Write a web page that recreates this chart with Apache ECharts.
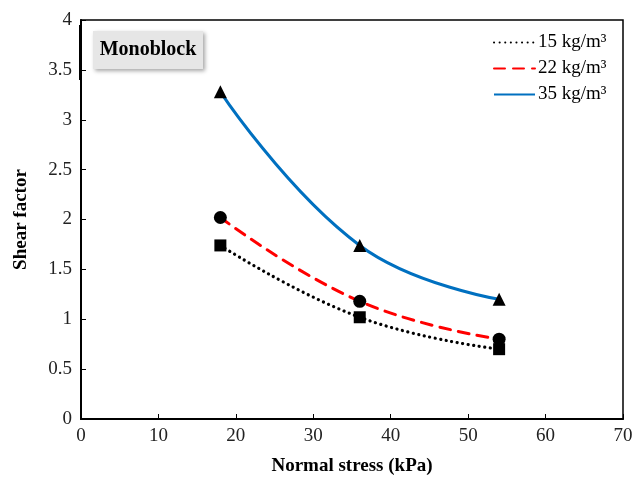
<!DOCTYPE html>
<html><head><meta charset="utf-8">
<script src="https://cdn.jsdelivr.net/npm/echarts@6/dist/echarts.min.js"></script>
<style>html,body{margin:0;padding:0;background:#fff}#c{width:644px;height:480px}</style>
</head><body><div id="c"></div>
<script>
const xStress = [18, 36, 54];
const d15 = [1.74, 1.02, 0.70];
const d22 = [2.02, 1.18, 0.80];
const d35 = [3.28, 1.74, 1.20];
const names = ['15 kg/m³', '22 kg/m³', '35 kg/m³'];
const xTicks = [0, 10, 20, 30, 40, 50, 60, 70];
const yTicks = [0, 0.5, 1, 1.5, 2, 2.5, 3, 3.5, 4];

const pts = arr => xStress.map((x, i) => [x, arr[i]]);
const font = 'Liberation Serif, Times New Roman, serif';
const chart = echarts.init(document.getElementById('c'), null, {renderer: 'canvas'});

function lineSeries(name, data, color, type, width) {
  return {name, type: 'line', data: pts(data), smooth: 0.45, symbol: 'none', z: 2,
    lineStyle: {color, type, width, cap: type === 'solid' ? 'butt' : 'round'}, itemStyle: {color}};
}
function markSeries(data, symbol, size) {
  return {type: 'scatter', data: pts(data), symbol, symbolSize: size, z: 3,
    itemStyle: {color: '#000', opacity: 1}, silent: true};
}

chart.setOption({
  animation: false,
  grid: {left: 81, right: 21, top: 20, bottom: 61, show: true, borderColor: '#000', borderWidth: 1.5,
    outerBoundsMode: 'none', containLabel: false},
  legend: {
    data: names.map(n => ({name: n})), orient: 'vertical', left: 493, top: 33, itemGap: 7, padding: 0,
    itemWidth: 41, itemHeight: 20,
    itemStyle: {opacity: 0},
    textStyle: {fontFamily: font, fontSize: 19, color: '#000', padding: [0, 0, 0, -2]}
  },
  xAxis: {
    type: 'value', min: xTicks[0], max: xTicks[xTicks.length - 1], interval: 10,
    name: 'Normal stress (kPa)', nameLocation: 'middle', nameGap: 38,
    nameTextStyle: {fontFamily: font, fontSize: 19, fontWeight: 'bold', color: '#000'},
    axisLine: {lineStyle: {color: '#000', width: 2}},
    axisTick: {inside: true, length: 5, lineStyle: {color: '#000'}},
    axisLabel: {fontFamily: font, fontSize: 19, color: '#222', margin: 8},
    splitLine: {show: false}
  },
  yAxis: {
    type: 'value', min: yTicks[0], max: yTicks[yTicks.length - 1], interval: 0.5,
    name: 'Shear factor', nameLocation: 'middle', nameGap: 50,
    nameTextStyle: {fontFamily: font, fontSize: 19, fontWeight: 'bold', color: '#000'},
    axisLine: {lineStyle: {color: '#000', width: 2}},
    axisTick: {inside: true, length: 5, lineStyle: {color: '#000'}},
    axisLabel: {fontFamily: font, fontSize: 19, color: '#222', margin: 9},
    splitLine: {show: false}
  },
  graphic: [{
    type: 'group', left: 93, top: 31,
    children: [
      {type: 'rect', shape: {x: 0, y: 0, width: 110, height: 38},
        style: {fill: '#e6e6e6', shadowBlur: 4, shadowOffsetX: 2, shadowOffsetY: 2, shadowColor: 'rgba(0,0,0,0.35)'}},
      {type: 'text', x: 55, y: 19, style: {text: 'Monoblock', fontFamily: font, fontSize: 20, fontWeight: 'bold',
        fill: '#000', align: 'center', verticalAlign: 'middle'}}
    ]
  }, {
    type: 'rect', left: 79, top: 25, shape: {width: 3, height: 55}, style: {fill: '#000'}, z: 10
  }],
  series: [
    lineSeries(names[0], d15, '#000', [0.1, 5.5], 3.2),
    lineSeries(names[1], d22, '#ff0000', [11, 8], 3),
    lineSeries(names[2], d35, '#0070c0', 'solid', 3),
    markSeries(d15, 'rect', 12),
    markSeries(d22, 'circle', 13),
    markSeries(d35, 'triangle', 13)
  ]
});
</script></body></html>
